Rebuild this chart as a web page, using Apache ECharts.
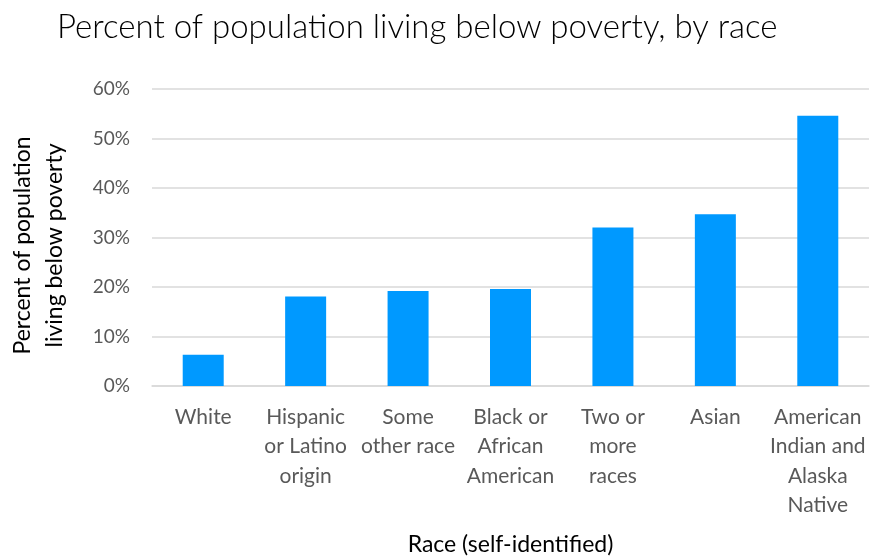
<!DOCTYPE html>
<html>
<head>
<meta charset="utf-8">
<script src="https://cdn.jsdelivr.net/npm/echarts@6/dist/echarts.min.js"></script>
<style>
  html, body { margin: 0; padding: 0; background: #fff; }
  #chart { width: 872px; height: 559px; }
</style>
</head>
<body>
<div id="chart"></div>
<script>
// Poverty rate by self-identified race
const categories = [
  'White',
  'Hispanic\nor Latino\norigin',
  'Some\nother race',
  'Black or\nAfrican\nAmerican',
  'Two or\nmore\nraces',
  'Asian',
  'American\nIndian and\nAlaska\nNative'
];
const povertyPct = [6.3, 18.1, 19.2, 19.6, 32.0, 34.7, 54.6];
const yTicks = { min: 0, max: 60, interval: 10 };

const chart = echarts.init(document.getElementById('chart'), null, { renderer: 'canvas' });

chart.setOption({
  animation: false,
  backgroundColor: '#ffffff',
  textStyle: { fontFamily: 'Lato' },
  title: {
    text: 'Percent of population living below poverty, by race',
    left: 52,
    top: 6,
    textStyle: { fontFamily: 'Lato', fontWeight: 300, fontSize: 33, color: '#000000' }
  },
  grid: { left: 152, right: 3, top: 89, bottom: 173, containLabel: false, outerBoundsMode: 'none' },
  xAxis: {
    type: 'category',
    data: categories,
    name: 'Race (self-identified)',
    nameLocation: 'middle',
    nameGap: 147,
    nameTextStyle: { fontFamily: 'Lato', fontSize: 23, color: '#000000' },
    axisLine: { show: true, lineStyle: { color: '#d9d9d9', width: 1.5 } },
    axisTick: { show: false },
    axisLabel: {
      interval: 0,
      margin: 16,
      fontFamily: 'Lato',
      fontSize: 21,
      lineHeight: 29.5,
      color: '#595959'
    }
  },
  yAxis: {
    type: 'value',
    min: yTicks.min,
    max: yTicks.max,
    interval: yTicks.interval,
    name: 'Percent of population\nliving below poverty',
    nameLocation: 'middle',
    nameGap: 81,
    nameRotate: 90,
    nameTextStyle: { fontFamily: 'Lato', fontSize: 23, lineHeight: 32, color: '#000000', padding: [0, 16, 0, 0] },
    axisLine: { show: false },
    axisTick: { show: false },
    axisLabel: {
      formatter: '{value}%',
      margin: 22,
      fontFamily: 'Lato',
      fontSize: 19,
      color: '#595959'
    },
    splitLine: { lineStyle: { color: '#d9d9d9', width: 1.5 } }
  },
  series: [{
    type: 'bar',
    data: povertyPct,
    barWidth: 41,
    itemStyle: { color: '#0099ff' }
  }]
});
</script>
</body>
</html>
